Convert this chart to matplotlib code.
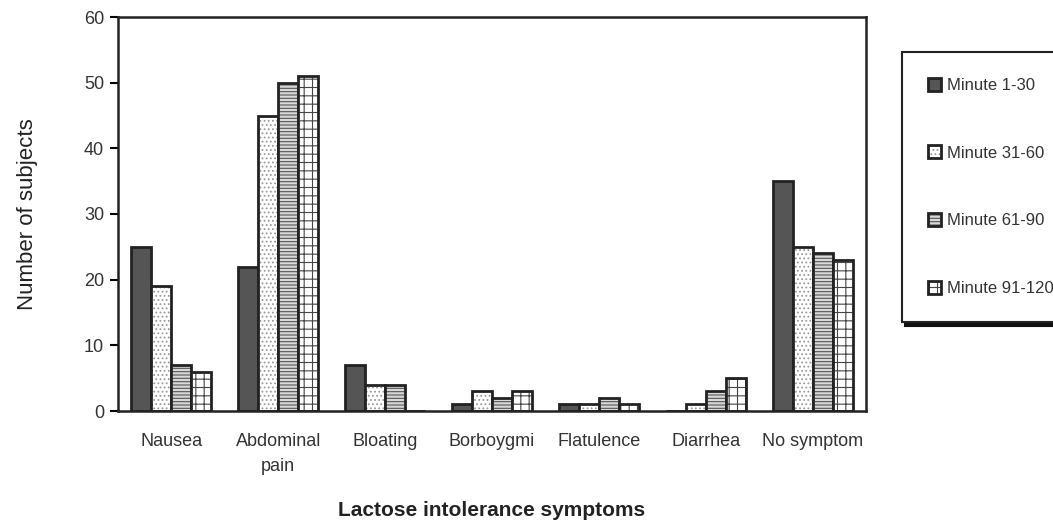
import matplotlib
matplotlib.use("Agg")
import matplotlib.pyplot as plt
import numpy as np

categories = ["Nausea", "Abdominal\npain", "Bloating", "Borboygmi", "Flatulence", "Diarrhea", "No symptom"]
series_names = ["Minute 1-30", "Minute 31-60", "Minute 61-90", "Minute 91-120"]
m1_30 = [25, 22, 7, 1, 1, 0, 35]
m31_60 = [19, 45, 4, 3, 1, 1, 25]
m61_90 = [7, 50, 4, 2, 2, 3, 24]
m91_120 = [6, 51, 0, 3, 1, 5, 23]
yticks = [0, 10, 20, 30, 40, 50, 60]

plt.rcParams["font.family"] = ["Liberation Sans", "DejaVu Sans"]
plt.rcParams["hatch.linewidth"] = 0.8

fig = plt.figure(figsize=(10.53, 5.23), dpi=100)
ax = fig.add_axes([118/1053, 1-411/523, (866-118)/1053, (411-17)/523])

x = np.arange(len(categories))
w = 0.187
styles = [
    dict(facecolor="#555555", hatch=None),
    dict(facecolor="white", hatch="...."),
    dict(facecolor="#d8d8d8", hatch="-----"),
    dict(facecolor="white", hatch="++"),
]
hatch_colors = [None, "#999999", "#555555", "#444444"]
data = [m1_30, m31_60, m61_90, m91_120]
handles = []
for i, (vals, st) in enumerate(zip(data, styles)):
    bars = ax.bar(x + (i - 1.5) * w, vals, w, label=series_names[i],
                  facecolor=st["facecolor"], hatch=st["hatch"],
                  edgecolor="#222222", linewidth=2)
    if hatch_colors[i]:
        for b in bars:
            b._hatch_color = matplotlib.colors.to_rgba(hatch_colors[i])
    handles.append(bars)

ax.set_xlim(-0.5, len(categories) - 0.5)
ax.set_ylim(0, 60)
ax.set_yticks(yticks)
ax.set_xticks(x)
ax.set_xticklabels(categories, fontsize=13, color="#333333", linespacing=1.6)
ax.tick_params(axis="x", length=0, pad=16)
ax.tick_params(axis="y", direction="out", length=6, width=1.5, labelsize=13, labelcolor="#333333", pad=4)
for s in ax.spines.values():
    s.set_linewidth(1.8)
    s.set_color("#222222")

ax.set_ylabel("Number of subjects", fontsize=16, color="#222222", labelpad=33)
fig.text(492/1053, 1 - 510/523, "Lactose intolerance symptoms",
         ha="center", va="center", fontsize=15, fontweight="bold", color="#222222")

leg = fig.legend(handles=handles, labels=series_names, loc="upper left",
                 bbox_to_anchor=(902/1053, 1 - 52/523), fontsize=12,
                 frameon=True, fancybox=False,
                 shadow={"color": "#111111", "alpha": 1.0, "ox": 2.2, "oy": -3},
                 labelspacing=3.15,
                 handlelength=0.8, handleheight=0.8, handletextpad=0.35,
                 borderpad=1.55, borderaxespad=0)
leg.get_frame().set_edgecolor("#222222")
leg.get_frame().set_linewidth(1.5)
for t in leg.get_texts():
    t.set_color("#333333")

fig.savefig("out.png", dpi=100)
